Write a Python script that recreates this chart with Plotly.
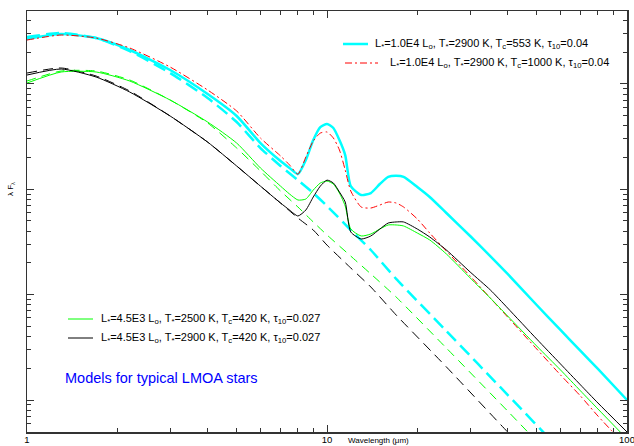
import plotly.graph_objects as go

# Wavelength grid (micron) for the dusty models
lam = [1.0, 1.3, 1.7, 2.2, 3, 4, 5, 6, 7, 7.5, 8, 8.5, 9, 9.5, 10, 10.5, 11, 11.5,
       12, 13, 14, 15, 16, 17, 18, 20, 22, 25, 30, 35, 40, 50, 60, 70, 80, 100]

# lambda*F_lambda (arbitrary units) of the four dusty models
f_cyan = [2662, 2970, 2720, 2093, 1352, 800, 495, 274, 185, 159, 139, 189, 293, 389, 416, 381, 293, 211,
          107, 88.1, 92.0, 112, 131, 134, 131, 105, 84.4, 59.5, 36.0, 23.2, 15.7, 7.97, 4.62, 2.92, 1.97, 1.00]
f_red = [2604, 2905, 2720, 2187, 1443, 874, 552, 306, 207, 170, 139, 202, 287, 341, 349, 306, 236, 152,
         96.2, 67.8, 66.3, 70.8, 75.6, 74.0, 67.8, 52.2, 38.4, 25.9, 15.0, 9.29, 6.13, 3.05, 1.73, 1.09, 0.705, 0.358]
f_green = [1018, 1295, 1295, 1063, 702, 434, 274, 159, 107, 90.1, 79.0, 80.7, 98.3, 114.5, 119.6, 112, 92.0, 69.3,
           41.9, 36.0, 37.6, 41.9, 45.8, 45.8, 44.8, 38.4, 33.0, 24.3, 14.4, 9.29, 6.27, 3.25, 1.93, 1.22, 0.822, 0.427]
f_black = [1212, 1382, 1160, 836, 495, 280, 166, 107, 74.0, 63.5, 55.7, 63.5, 84.4, 107, 122, 114.5, 94.1, 75.6,
           39.3, 33.7, 36.0, 41.9, 47.8, 48.9, 48.9, 41.9, 35.2, 26.5, 16.4, 11.1, 7.46, 3.79, 2.20, 1.39, 0.937, 0.497]

# Naked stellar photospheres (dashed)
lam_ph = [1.0, 1.3, 1.7, 2.2, 3, 4, 5, 6, 7, 8, 9, 10, 12, 14, 17, 25, 40, 60, 100]
ph_cyan = [2781, 3035, 2720, 2048, 1266, 734, 434, 246, 166, 122, 92.0, 69.3, 41.0, 26.5, 14.1, 4.52, 1.12, 0.335, 0.0727]
ph_green = [1063, 1323, 1323, 1087, 702, 425, 246, 149, 96.2, 67.8, 48.9, 36.8, 23.2, 15.7, 9.49, 3.11, 0.786, 0.236, 0.0512]
ph_black = [1266, 1413, 1186, 855, 495, 280, 166, 107, 74.0, 53.3, 41.0, 29.5, 17.9, 11.8, 6.41, 2.06, 0.497, 0.149, 0.0324]

x_major = [1, 10, 100]
x_labels = ["1", "10", "100"]
x_minor = [2, 3, 4, 5, 6, 7, 8, 9, 20, 30, 40, 50, 60, 70, 80, 90]
y_major = [1, 10, 100, 1000]
y_minor = [0.5, 0.6, 0.7, 0.8, 0.9] + [m * d for d in (1, 10, 100) for m in range(2, 10)] + [2000, 3000, 4000, 5000]

labels = [
    "L<sub>*</sub>=1.0E4 L<sub>o</sub>, T<sub>*</sub>=2900 K, T<sub>c</sub>=553 K, τ<sub>10</sub>=0.04",
    "L<sub>*</sub>=1.0E4 L<sub>o</sub>, T<sub>*</sub>=2900 K, T<sub>c</sub>=1000 K, τ<sub>10</sub>=0.04",
    "L<sub>*</sub>=4.5E3 L<sub>o</sub>, T<sub>*</sub>=2500 K, T<sub>c</sub>=420 K, τ<sub>10</sub>=0.027",
    "L<sub>*</sub>=4.5E3 L<sub>o</sub>, T<sub>*</sub>=2900 K, T<sub>c</sub>=420 K, τ<sub>10</sub>=0.027",
]

FONT = "Liberation Sans, Arial, sans-serif"
CYAN, RED, GREEN, BLACK = "#00FFFF", "#FF0000", "#00FF00", "#000000"
AX = "#333333"

fig = go.Figure()


def add(x, y, color, width, dash):
    fig.add_trace(go.Scatter(x=x, y=y, mode="lines", showlegend=False, hoverinfo="skip",
                             line=dict(color=color, width=width, dash=dash, shape="spline", smoothing=0.6)))


add(lam_ph, ph_black, BLACK, 1, "10px,6px")
add(lam_ph, ph_green, GREEN, 1, "9px,6px")
add(lam_ph, ph_cyan, CYAN, 2.5, "13px,6px")
add(lam, f_cyan, CYAN, 2.5, "solid")
add(lam, f_red, RED, 1, "7px,3px,2px,3px")
add(lam, f_green, GREEN, 1, "solid")
add(lam, f_black, BLACK, 1, "solid")

fig.update_layout(
    width=634, height=446,
    margin=dict(l=27, r=7, t=11, b=14, autoexpand=False),
    paper_bgcolor="white", plot_bgcolor="white",
    showlegend=False,
    font=dict(family=FONT, size=10, color="black"),
)
fig.update_xaxes(
    type="log", range=[0, 2], automargin=False,
    tickmode="array", tickvals=x_major, ticktext=x_labels,
    ticks="inside", ticklen=7, tickwidth=1, tickcolor=AX,
    showline=True, linecolor=AX, linewidth=1.5, mirror="ticks",
    showgrid=False, zeroline=False,
    tickfont=dict(size=9.5, family=FONT), ticklabelstandoff=-2, ticklabeloverflow="allow",
    minor=dict(tickmode="array", tickvals=x_minor, ticks="inside", ticklen=4, tickcolor=AX, showgrid=False),
)
fig.update_yaxes(
    type="log", range=[-0.3036, 3.691], automargin=False,
    tickmode="array", tickvals=y_major, showticklabels=False,
    ticks="inside", ticklen=7, tickwidth=1, tickcolor=AX,
    showline=True, linecolor=AX, linewidth=1.5, mirror="ticks",
    showgrid=False, zeroline=False,
    minor=dict(tickmode="array", tickvals=y_minor, ticks="inside", ticklen=4, tickcolor=AX, showgrid=False),
)


def px(xp):
    return (xp - 27) / 600.0


def py(yp):
    return (432 - yp) / 421.0


ann = [
    dict(text="Wavelength (μm)", x=px(346), y=py(440), xanchor="left", yanchor="middle", font=dict(size=8)),
    dict(text="λ F<sub>λ</sub>", x=px(11), y=py(189), xanchor="center", yanchor="middle", textangle=-90, font=dict(size=8)),
    dict(text=labels[0], x=px(373), y=py(44), xanchor="left", yanchor="middle", font=dict(size=11)),
    dict(text=labels[1], x=px(388), y=py(63), xanchor="left", yanchor="middle", font=dict(size=11)),
    dict(text=labels[2], x=px(99), y=py(319), xanchor="left", yanchor="middle", font=dict(size=11)),
    dict(text=labels[3], x=px(99), y=py(338), xanchor="left", yanchor="middle", font=dict(size=11)),
    dict(text="Models for typical LMOA stars", x=px(63), y=py(378), xanchor="left", yanchor="middle",
         font=dict(size=14.5, color="#0000FF")),
]
for a in ann:
    fig.add_annotation(xref="paper", yref="paper", showarrow=False, **a)

samples = [
    (343, 368, 44, CYAN, 2.5, "solid"),
    (345, 378, 63, RED, 1, "7px,3px,2px,3px"),
    (68, 93, 319, GREEN, 1, "solid"),
    (68, 93, 338, BLACK, 1, "solid"),
]
for x0, x1, yy, c, w, d in samples:
    fig.add_shape(type="line", xref="paper", yref="paper", x0=px(x0), x1=px(x1), y0=py(yy), y1=py(yy),
                  line=dict(color=c, width=w, dash=d))

fig.write_html("out.html", config={"displayModeBar": False, "staticPlot": True},
               post_script="document.body.style.margin='0';document.body.style.overflow='hidden';")
